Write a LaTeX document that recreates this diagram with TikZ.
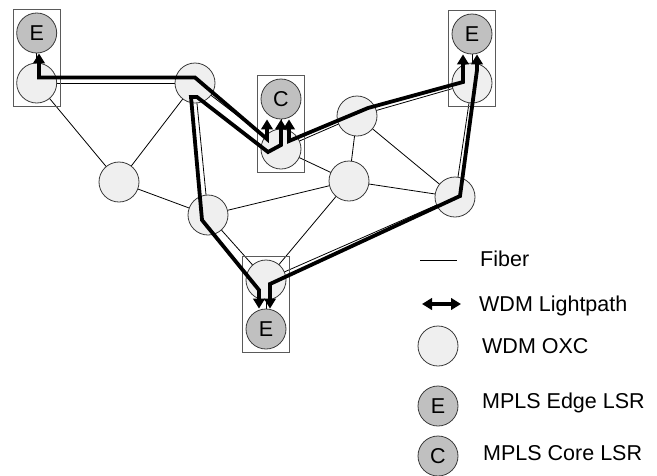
\documentclass[tikz,border=0pt]{standalone}
\usepackage{fontspec}
\setmainfont{Liberation Sans}
\usetikzlibrary{arrows.meta,fit}
\definecolor{oxcfill}{HTML}{EFEFEF}
\definecolor{lsrfill}{HTML}{C0C0C0}
\definecolor{rim}{HTML}{3A3A3A}
\definecolor{boxrim}{HTML}{5A5A5A}
\begin{document}
\begin{tikzpicture}[x=1pt,y=-1pt,
  oxc/.style={circle,draw=rim,fill=oxcfill,minimum size=40pt,inner sep=0pt,line width=0.8pt},
  lsr/.style={oxc,fill=lsrfill,font=\fontsize{21.5}{25}\selectfont},
  grp/.style={draw=boxrim,line width=0.8pt,inner xsep=3pt,inner ysep=3pt},
  fiber/.style={line width=0.8pt},
  lp/.style={line width=3.8pt,{Triangle[width=11.5pt,length=10pt]}-{Triangle[width=11.5pt,length=10pt]}},
  lbl/.style={anchor=base west,inner sep=0pt,font=\fontsize{21.5}{25}\selectfont}]
\useasboundingbox (0,0) rectangle (657,475);

% node positions
\coordinate (pE1) at (36.7,33);
\coordinate (pO1) at (36.7,83);
\coordinate (pO2) at (195,83);
\coordinate (pC)  at (281,99);
\coordinate (pOc) at (281,149);
\coordinate (pO3) at (357,116);
\coordinate (pO4) at (349,181);
\coordinate (pO5) at (455,197);
\coordinate (pE2) at (472,34);
\coordinate (pO6) at (472,83);
\coordinate (pO7) at (119,182);
\coordinate (pO8) at (208,215);
\coordinate (pO9) at (266,280);
\coordinate (pE3) at (266,329);

% fibers (under the circles)
\foreach \a/\b in {O1/O2,O1/O7,O2/O7,O2/Oc,O2/O8,O7/O8,O8/O9,O8/O4,Oc/O3,Oc/O4,O3/O4,O3/O6,O3/O5,O4/O5,O4/O9,O5/O9,O5/O6,E1/O1,C/Oc,E2/O6,E3/O9}
  \draw[fiber] (p\a) -- (p\b);

% nodes
\node[oxc] (O1) at (pO1) {};
\node[oxc] (O2) at (pO2) {};
\node[oxc] (Oc) at (pOc) {};
\node[oxc] (O3) at (pO3) {};
\node[oxc] (O4) at (pO4) {};
\node[oxc] (O5) at (pO5) {};
\node[oxc] (O6) at (pO6) {};
\node[oxc] (O7) at (pO7) {};
\node[oxc] (O8) at (pO8) {};
\node[oxc] (O9) at (pO9) {};
\node[lsr] (E1) at (pE1) {E};
\node[lsr] (C)  at (pC)  {C};
\node[lsr] (E2) at (pE2) {E};
\node[lsr] (E3) at (pE3) {E};

% grouping boxes
\node[grp,fit=(E1)(O1)] (B1) {};
\node[grp,fit=(C)(Oc)] (B2) {};
\node[grp,fit=(E2)(O6)] (B3) {};
\node[grp,fit=(E3)(O9)] (B4) {};

% lightpaths
\draw[lp] (39,0 |- E1.south) -- (39,77.5) -- (195,77.5) -- (267,139) -- (267,0 |- C.south);
\draw[lp] (281,0 |- C.south) -- (281,145) -- (268,152) -- (197,97) -- (191,97) -- (202,220) -- (259,290) -- (259,0 |- E3.north);
\draw[lp] (270,0 |- E3.north) -- (270,284) -- (460,196) -- (477,70) -- (477,0 |- E2.south);
\draw[lp] (289,0 |- C.south) -- (289,141) -- (368,108) -- (463,82) -- (463,0 |- E2.south);

% legend
\coordinate (f1) at (420,260);
\coordinate (f2) at (457,260);
\draw[fiber] (f1) -- (f2);
\node[lbl] (tF) at (480,266.3) {Fiber};
\coordinate (l1) at (422,304);
\coordinate (l2) at (461,304);
\draw[lp] (l1) -- (l2);
\node[lbl] (tL) at (479,311.7) {WDM Lightpath};
\node[oxc] (gO) at (438,346) {};
\node[lbl] (tO) at (482,353.3) {WDM OXC};
\node[lsr] (gE) at (438,406) {E};
\node[lbl] (tE) at (482,408.3) {MPLS Edge LSR};
\node[lsr] (gC) at (438,456) {C};
\node[lbl] (tC) at (483,460) {MPLS Core LSR};
\end{tikzpicture}
\end{document}
